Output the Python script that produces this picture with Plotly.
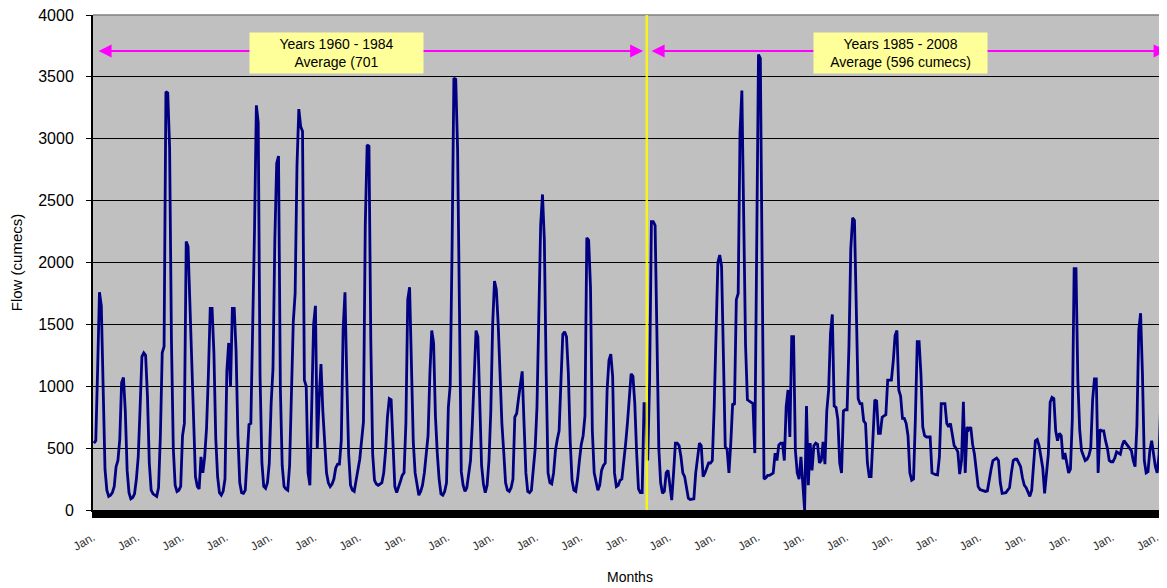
import numpy as np
import plotly.graph_objects as go

# Monthly flow (cumecs), Jan 1960 onwards
flow_1960s = [
    540, 560, 1130, 1760, 1650, 950, 330, 160, 110, 120, 140, 190,
    350, 400, 570, 1030, 1070, 800, 320, 140, 90, 100, 130, 250,
    430, 820, 1240, 1270, 1250, 920, 380, 160, 130, 120, 110, 180,
    600, 1270, 1320, 3380, 3370, 2930, 1370, 500, 200, 150, 160, 190,
    600, 700, 2170, 2130, 1670, 1270, 650, 270, 190, 170, 430, 300,
    430, 660, 1090, 1630, 1630, 1270, 580, 270, 140, 120, 150, 250,
    1120, 1350, 1000, 1630, 1630, 1290, 600, 220, 140, 135, 160, 430,
    690, 700, 1410, 2260, 3270, 3130, 1080, 380, 190, 175, 220, 380,
    860, 1140, 2180, 2800, 2860, 980, 360, 190, 170, 160, 360, 940,
    1520, 1750, 2780, 3240, 3100, 3060, 1050, 1000, 300, 200, 880, 1500,
]
flow_1970s = [
    1650, 500, 900, 1180, 800, 500, 300, 220, 190, 210, 250, 340,
    370, 370, 560, 1460, 1760, 1050, 450, 200, 160, 150, 250, 330,
    410, 560, 710, 2300, 2950, 2940, 1360, 450, 240, 210, 200, 210,
    220, 300, 480, 750, 900, 890, 550, 190, 140, 180, 230, 280,
    300, 700, 1700, 1800, 1200, 550, 300, 190, 120, 150, 200, 300,
    450, 600, 1100, 1450, 1350, 760, 460, 250, 130, 120, 150, 220,
    830, 1010, 2100, 3490, 3480, 2920, 1640, 310, 200, 150, 180, 300,
    400, 700, 1140, 1450, 1400, 850, 360, 210, 140, 200, 400, 800,
    1500, 1850, 1780, 1500, 1040, 700, 470, 220, 160, 150, 180, 250,
    750, 780, 900, 1000, 1120, 700, 300, 150, 140, 160, 300, 490,
]
flow_1980s = [
    830, 1600, 2300, 2550, 2180, 1100, 300, 220, 210, 300, 480, 570,
    640, 1040, 1420, 1440, 1400, 1110, 560, 240, 160, 150, 250, 400,
    530, 600, 760, 2200, 2180, 1800, 640, 300, 220, 160, 200, 320,
    360, 380, 970, 1210, 1260, 1080, 300, 190, 200, 240, 250, 380,
    530, 700, 890, 1100, 1080, 860, 460, 170, 140, 140, 860, 860,
    400, 1040, 2330, 2330, 2300, 1180, 500, 220, 135, 150, 300, 320,
    200, 80, 300, 540, 540, 520, 430, 300, 270, 190, 95, 85,
    85, 90, 300, 400, 540, 520, 270, 300, 340, 380, 380, 400,
    830, 1350, 2000, 2060, 1970, 1250, 510, 490, 300, 540, 860, 850,
    1700, 1750, 3050, 3390, 2330, 1330, 890, 880, 870, 860, 460, 1900,
]
flow_1990s = [
    3680, 3650, 1710, 250, 260, 280, 280, 290, 300, 460, 400, 525,
    540, 540, 400, 835, 970, 590, 1400, 1400, 480, 300, 250, 430,
    250, 0, 840, 200, 540, 320, 520, 540, 530, 380, 400, 550,
    370, 800, 970, 1430, 1580, 840, 830, 730, 380, 300, 800, 810,
    810, 1320, 2110, 2360, 2340, 1620, 900, 860, 860, 720, 700, 380,
    270, 270, 620, 890, 880, 620, 620, 750, 760, 770, 1050, 1050,
    1050, 1200, 1410, 1450, 970, 920, 740, 740, 700, 600, 300, 240,
    250, 740, 1360, 1360, 1100, 670, 600, 590, 590, 590, 300, 290,
    285, 283, 430, 860, 860, 860, 700, 673, 700, 600, 520, 500,
    470, 290, 400, 875, 300, 670, 650, 670, 530, 450, 300, 190,
]
flow_2000s = [
    165, 160, 155, 150, 155, 260, 330, 400, 410, 420, 400, 220,
    135, 140, 140, 160, 180, 300, 400, 410, 410, 380, 350, 260,
    200, 180, 150, 110, 160, 400, 560, 570, 520, 430, 340, 135,
    290, 450, 870, 910, 900, 640, 560, 620, 600, 410, 460, 380,
    300, 330, 730, 1950, 1950, 1050, 650, 480, 430, 400, 410, 440,
    500, 890, 1060, 1060, 300, 650, 640, 640, 560, 500, 400, 390,
    390, 420, 470, 460, 450, 520, 560, 540, 520, 500, 480, 400,
    350, 680, 1450, 1590, 1100, 400, 300, 310, 480, 560, 430, 350,
    300, 450, 920, 1350, 1340, 1340,
]

period_labels = ["Years 1960 - 1984<br>Average (701",
                 "Years 1985 - 2008<br>Average (596 cumecs)"]
period_start_month = [0, 300]
tick_label = "Jan."
x_title = "Months"
y_title = "Flow (cumecs)"

flow = np.array(flow_1960s + flow_1970s + flow_1980s + flow_1990s + flow_2000s)
months = np.arange(len(flow)) + 0.5
x_end = 581.8

FONT = "Liberation Sans, Arial, sans-serif"

fig = go.Figure()
fig.add_trace(go.Scatter(
    x=months, y=flow, mode="lines",
    line=dict(color="#000080", width=2.8),
    hoverinfo="skip", showlegend=False,
))

tickvals = list(range(0, 582, 24))
# the page body adds an 8px offset, so the figure is sized to end at the window edge
fig.update_layout(
    width=1159, height=580,
    margin=dict(l=85, r=0, t=7, b=78),
    paper_bgcolor="white",
    plot_bgcolor="#C0C0C0",
    font=dict(family=FONT, color="black"),
    showlegend=False,
    xaxis=dict(
        range=[0, x_end], automargin=False,
        tickmode="array", tickvals=tickvals,
        ticktext=[tick_label] * len(tickvals),
        tickangle=-30,
        tickfont=dict(size=12, color="#333333"),
        ticks="outside", ticklen=6, tickwidth=1.6, tickcolor="black",
        minor=dict(ticks="outside", ticklen=6, tickwidth=1.6,
                   tickcolor="black", dtick=1, tick0=0, showgrid=False),
        ticklabelstandoff=8,
        showgrid=False, zeroline=False,
        showline=True, linecolor="black", linewidth=2,
    ),
    yaxis=dict(
        range=[0, 4000], dtick=500, tick0=0, automargin=False,
        tickfont=dict(size=16, color="black"),
        ticklabeloverflow="allow",
        ticks="outside", ticklen=5, tickwidth=1, tickcolor="black",
        ticklabelstandoff=9,
        showgrid=True, gridcolor="black", gridwidth=1,
        zeroline=False,
        showline=True, linecolor="black", linewidth=2,
        title=dict(text=y_title, font=dict(size=15, color="black"),
                   standoff=12),
    ),
)

# x-axis title
fig.add_annotation(x=0.5, y=-0.135, xref="paper", yref="paper",
                   text=x_title, showarrow=False, xanchor="center",
                   yanchor="middle", font=dict(size=14, color="black"))

# top border of plot area
fig.add_shape(type="line", xref="paper", yref="paper", x0=0, x1=1, y0=1, y1=1,
              line=dict(color="#808080", width=1.5))

# yellow divider at Jan 1985
fig.add_shape(type="line", xref="x", yref="paper",
              x0=period_start_month[1], x1=period_start_month[1], y0=0, y1=1,
              line=dict(color="#FFFF00", width=2.5), opacity=0.85)

arrow_y = 3710
spans = [(period_start_month[0] + 2.2, period_start_month[1] - 2.0),
         (period_start_month[1] + 1.8, x_end - 0.2)]
for a, b in spans:
    fig.add_annotation(x=b, y=arrow_y, ax=a, ay=arrow_y, xref="x", yref="y",
                       axref="x", ayref="y", text="", showarrow=True,
                       arrowhead=2, arrowside="end+start", arrowsize=1.3,
                       arrowwidth=2, arrowcolor="#FF00FF", standoff=0,
                       startstandoff=0)

box_x = [131.9, 437.7]
for bx, label in zip(box_x, period_labels):
    fig.add_annotation(x=bx, y=3693, xref="x", yref="y", text=label,
                       showarrow=False, bgcolor="#FFFF99", width=171,
                       height=38, borderpad=1,
                       font=dict(size=14, color="black", family=FONT))

fig.write_html("out.html")
